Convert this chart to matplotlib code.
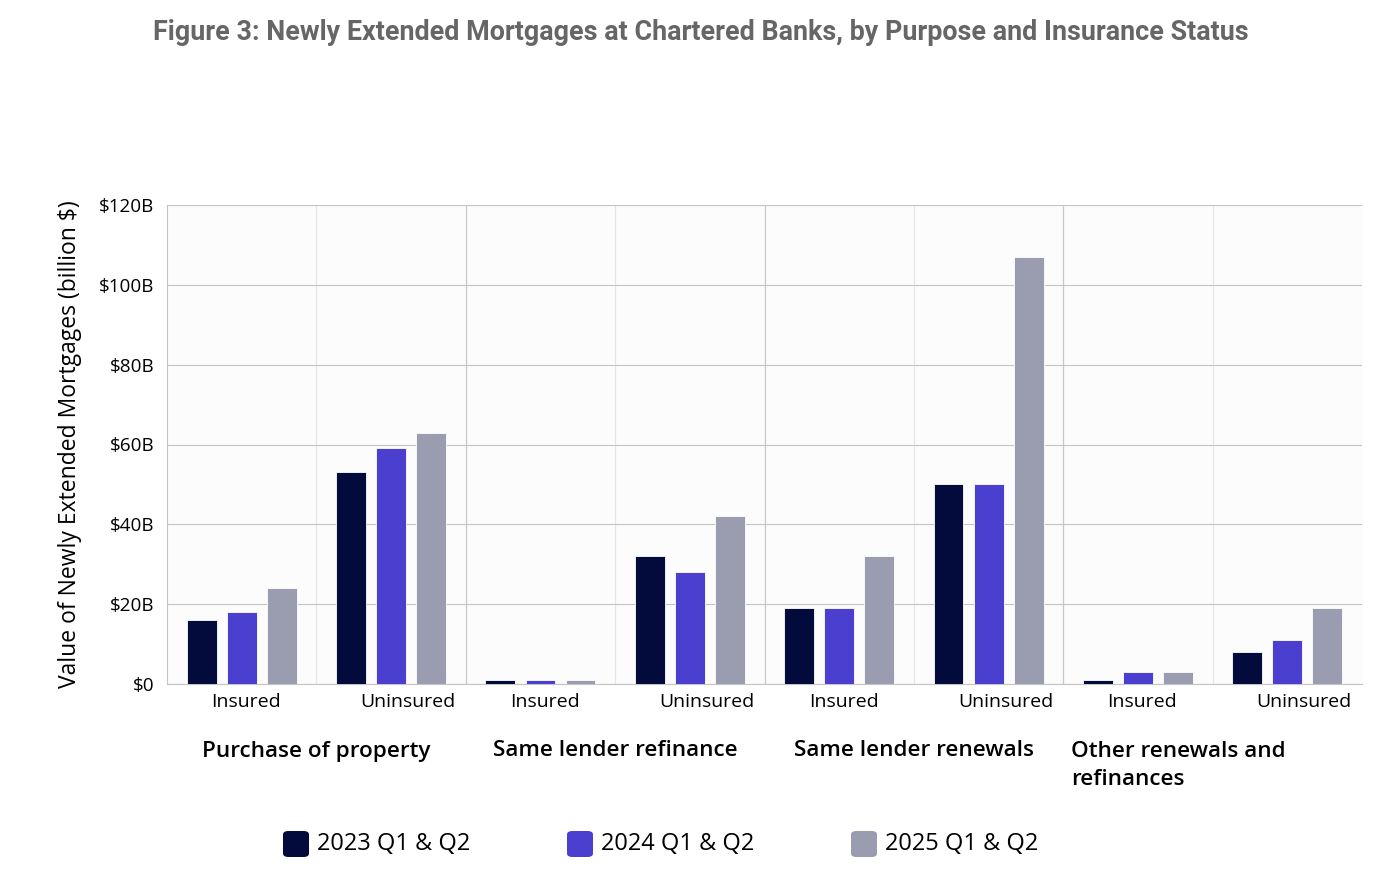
import matplotlib
matplotlib.use("Agg")
import matplotlib.pyplot as plt
from matplotlib.patches import FancyBboxPatch
import numpy as np

groups = ["Purchase of property", "Same lender refinance", "Same lender renewals",
          "Other renewals and\nrefinances"]
subcats = ["Insured", "Uninsured"]
series = ["2023 Q1 & Q2", "2024 Q1 & Q2", "2025 Q1 & Q2"]
v2023 = [16, 53, 1, 32, 19, 50, 1, 8]
v2024 = [18, 59, 1, 28, 19, 50, 3, 11]
v2025 = [24, 63, 1, 42, 32, 107, 3, 19]
yticks = [0, 20, 40, 60, 80, 100, 120]
ytick_labels = ["$0", "$20B", "$40B", "$60B", "$80B", "$100B", "$120B"]
colors = ["#020b3b", "#4a3fcf", "#9a9db0"]

W, H = 1379, 881
fig = plt.figure(figsize=(W/100, H/100), dpi=100)
L, R, T, B = 167, 1362, 205, 684
ax = fig.add_axes([L/W, 1-B/H, (R-L)/W, (B-T)/H])
ax.set_facecolor("#fcfcfc")

n = len(v2023)
x = np.arange(n)
bw = 0.2
step = 0.268
for k, vals in enumerate([v2023, v2024, v2025]):
    ax.bar(x + (k-1)*step, vals, width=bw, color=colors[k], zorder=3,
           edgecolor="white", linewidth=0.6, label=series[k])

ax.set_xlim(-0.5, n-0.5)
ax.set_ylim(0, 120)
ax.set_yticks(yticks)
ax.set_yticklabels(ytick_labels, fontsize=13.6, family="Open Sans")
ax.tick_params(axis="y", length=0, pad=9)
ax.grid(axis="y", color="#c4c4c4", linewidth=0.8, zorder=0)
for b in np.arange(0.5, n-0.5, 1.0):
    major = int(round(b+0.5)) % 2 == 0
    ax.axvline(b, color="#c8c8c8" if major else "#e6e6e6", linewidth=0.9, zorder=1)
for s in ["top", "right"]:
    ax.spines[s].set_visible(False)
ax.spines["left"].set_color("#c4c4c4")
ax.spines["bottom"].set_color("#c4c4c4")

# subcategory labels
xt = []
xl = []
for g in range(len(groups)):
    xt += [2*g + 0.029, 2*g + 1 + 0.113]
    xl += subcats
ax.set_xticks(xt)
ax.set_xticklabels(xl, fontsize=14, family="Open Sans")
ax.tick_params(axis="x", length=0, pad=6.5)

def py(p):
    return (B - p) / ((B - T) / 120)

# group labels
for g, name in enumerate(groups):
    if g < 3:
        ax.text(2*g + 0.5, py(751), name, ha="center", va="center", fontsize=16.2,
                fontweight="semibold", family="Open Sans", clip_on=False)
    else:
        ax.text(2*g - 0.5 + (1071-1063)/149.4, py(741), name, ha="left", va="top",
                fontsize=16.2, fontweight="semibold", family="Open Sans",
                linespacing=1.42, clip_on=False)

ax.set_ylabel("Value of Newly Extended Mortgages (billion $)", fontsize=16.5,
              family="Open Sans", labelpad=12)

fig.text(701/W, 1-33/H, "Figure 3: Newly Extended Mortgages at Chartered Banks, by Purpose and Insurance Status",
         ha="center", va="center", fontsize=19.4, fontweight="bold", color="#666666",
         family="Roboto")

# legend
leg_x = [283, 567, 851]
for k in range(3):
    px = leg_x[k]
    rect = FancyBboxPatch((px/W, 1-857/H), 26/W, 26/H,
                          boxstyle="round,pad=0,rounding_size=0.004",
                          transform=fig.transFigure, facecolor=colors[k],
                          edgecolor="none")
    fig.patches.append(rect)
    fig.text((px+34)/W, 1-844/H, series[k], ha="left", va="center", fontsize=17,
             family="Open Sans")

fig.savefig("out.png", dpi=100)
